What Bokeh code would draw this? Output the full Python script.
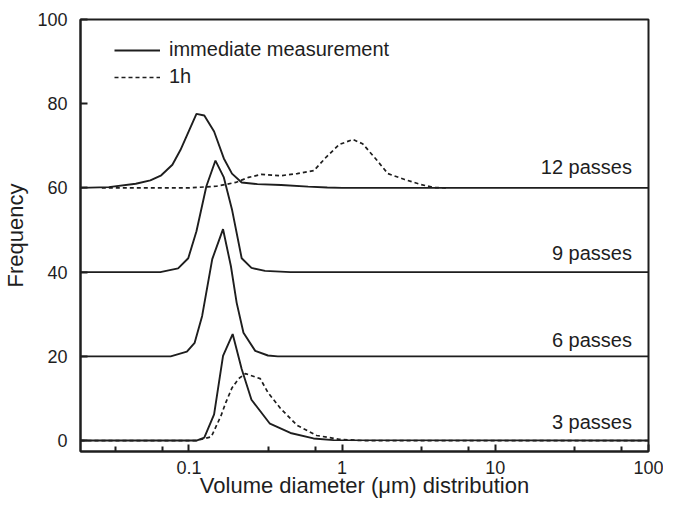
from bokeh.plotting import figure
from bokeh.models import FixedTicker, CustomJSTickFormatter, Legend, LegendItem, Range1d, ColumnDataSource
from bokeh.embed import file_html
from bokeh.resources import INLINE
from bokeh.core.properties import value

# ---- data ----
x12_imm = [0.0196, 0.03, 0.045, 0.056, 0.066, 0.078, 0.088, 0.112, 0.126, 0.146, 0.169, 0.191, 0.221, 0.28, 0.4, 0.6, 0.8, 1.0, 100]
y12_imm = [60.0, 60.2, 61.0, 61.8, 63.0, 65.5, 69.0, 77.6, 77.2, 73.4, 67.0, 63.4, 61.3, 60.9, 60.7, 60.3, 60.1, 60.0, 60.0]

x12_1h = [0.027, 0.1, 0.151, 0.202, 0.245, 0.296, 0.397, 0.509, 0.654, 0.791, 0.957, 1.175, 1.36, 1.65, 1.99, 2.56, 3.28, 3.97, 4.8]
y12_1h = [60.0, 60.0, 60.4, 61.3, 62.5, 63.2, 62.9, 63.4, 64.1, 67.4, 70.3, 71.5, 70.5, 67.0, 63.4, 62.0, 60.8, 60.1, 60.0]

x9_imm = [0.0196, 0.065, 0.085, 0.099, 0.112, 0.130, 0.149, 0.169, 0.191, 0.221, 0.256, 0.314, 0.46, 100]
y9_imm = [40.0, 40.0, 40.9, 43.3, 49.7, 60.4, 66.5, 62.5, 54.9, 43.3, 41.0, 40.3, 40.0, 40.0]

x6_imm = [0.0196, 0.076, 0.097, 0.109, 0.122, 0.142, 0.167, 0.188, 0.205, 0.227, 0.271, 0.328, 0.38, 100]
y6_imm = [20.0, 20.0, 21.1, 23.2, 29.6, 43.1, 50.2, 41.4, 32.7, 25.6, 21.3, 20.2, 20.0, 20.0]

x3_imm = [0.0196, 0.112, 0.126, 0.146, 0.167, 0.193, 0.221, 0.256, 0.338, 0.46, 0.65, 0.88, 100]
y3_imm = [0.0, 0.0, 0.7, 6.2, 20.1, 25.3, 17.0, 9.7, 4.0, 1.8, 0.5, 0.1, 0.0]

x3_1h = [0.0196, 0.112, 0.140, 0.162, 0.174, 0.191, 0.211, 0.234, 0.292, 0.328, 0.397, 0.509, 0.683, 0.957, 1.36, 100]
y3_1h = [0.0, 0.0, 0.9, 5.9, 9.0, 12.5, 14.7, 15.9, 14.7, 11.4, 7.6, 3.6, 1.2, 0.3, 0.0, 0.0]

pass_labels = ["12 passes", "9 passes", "6 passes", "3 passes"]
pass_label_y = [64.9, 44.6, 24.0, 4.3]
pass_label_x = [78, 78, 78, 78]

x_ticks = [0.1, 1, 10, 100]
x_minor = [0.033, 0.067, 0.33, 0.67, 3.3, 6.7, 33, 67]
y_ticks = [0, 20, 40, 60, 80, 100]

FONT = "Liberation Sans"
INK = "#1e1e1e"

p = figure(width=663, height=500, x_axis_type="log",
           x_range=Range1d(0.0196, 100), y_range=Range1d(-2.6, 100),
           output_backend="svg", toolbar_location=None,
           min_border_left=78, min_border_right=15, min_border_top=19, min_border_bottom=47)
p.grid.visible = False
p.background_fill_color = "white"
p.border_fill_color = "white"
p.outline_line_color = INK
p.outline_line_width = 2

solid_kw = dict(line_color=INK, line_width=1.9)
dash_kw = dict(line_color=INK, line_width=1.7, line_dash="4 3")

r_imm = p.line(x12_imm, y12_imm, **solid_kw)
r_1h = p.line(x12_1h, y12_1h, **dash_kw)
p.line(x9_imm, y9_imm, **solid_kw)
p.line(x6_imm, y6_imm, **solid_kw)
p.line(x3_1h, y3_1h, **dash_kw)
p.line(x3_imm, y3_imm, **solid_kw)

src = ColumnDataSource(dict(x=pass_label_x, y=pass_label_y, t=pass_labels))
p.text(x="x", y="y", text="t", source=src, text_align="right", text_baseline="middle",
       text_font=value(FONT), text_font_size="20px", text_color=INK)

legend = Legend(items=[LegendItem(label="immediate measurement", renderers=[r_imm]),
                       LegendItem(label="1h", renderers=[r_1h])],
                location=(34, 363), border_line_color=None, background_fill_alpha=0,
                padding=0, margin=0, glyph_width=46, glyph_height=20, label_height=20,
                spacing=4, label_standoff=9,
                label_text_font=FONT, label_text_font_size="20px", label_text_color=INK)
p.add_layout(legend)

# x axis
xa = p.xaxis[0]
xa.ticker = FixedTicker(ticks=x_ticks, minor_ticks=x_minor)
xa.formatter = CustomJSTickFormatter(code="return tick.toString();")
xa.axis_label = "Volume diameter (μm) distribution"
# y axis
ya = p.yaxis[0]
ya.ticker = FixedTicker(ticks=y_ticks)
ya.axis_label = "Frequency"

for ax in (xa, ya):
    ax.axis_line_color = INK
    ax.axis_line_width = 2
    ax.major_tick_in = 7
    ax.major_tick_out = 0
    ax.major_tick_line_color = INK
    ax.major_tick_line_width = 2
    ax.minor_tick_in = 5
    ax.minor_tick_out = 0
    ax.minor_tick_line_color = INK
    ax.minor_tick_line_width = 2
    ax.major_label_text_font = FONT
    ax.major_label_text_font_size = "18px"
    ax.major_label_text_color = INK
    ax.axis_label_text_font = FONT
    ax.axis_label_text_font_size = "22px"
    ax.axis_label_text_font_style = "normal"
    ax.axis_label_text_color = INK

ya.minor_tick_line_color = None
xa.major_label_standoff = 9
xa.axis_label_standoff = -4
ya.major_label_standoff = 13
ya.axis_label_standoff = 6

open("out.html", "w").write(file_html(p, INLINE))
